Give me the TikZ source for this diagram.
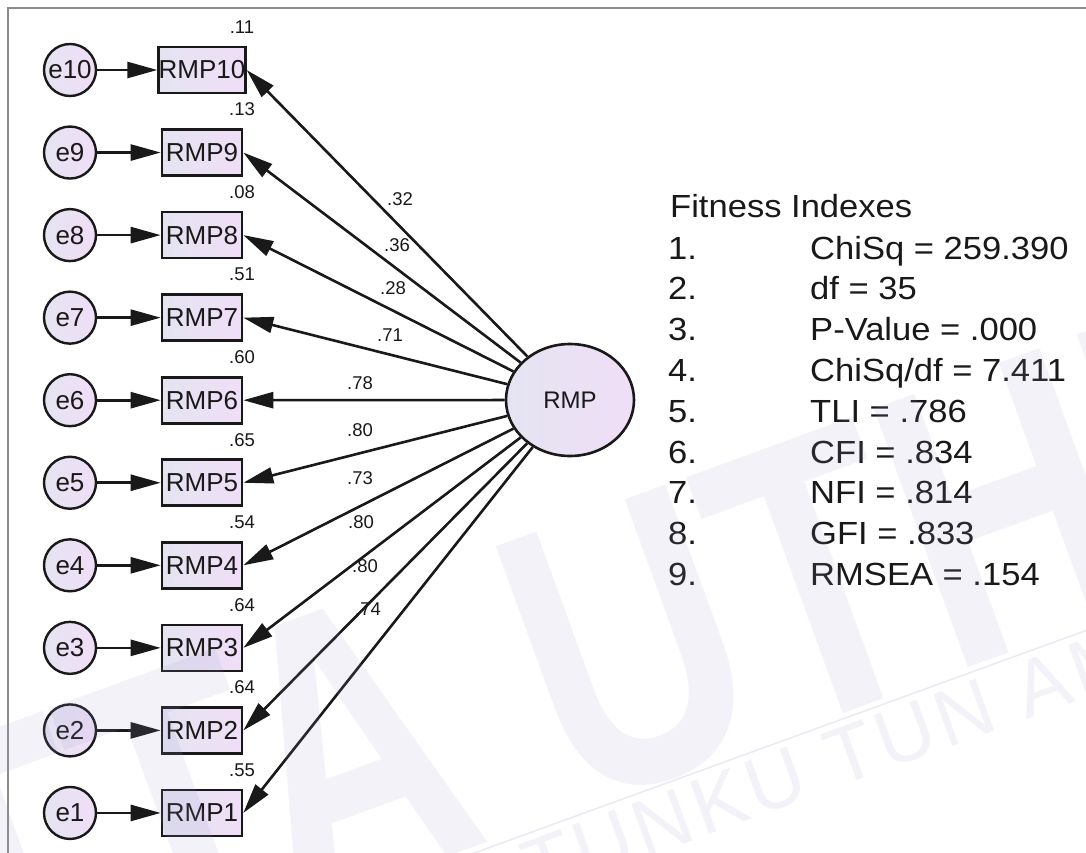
\documentclass[tikz,border=0pt]{standalone}
\usepackage{fontspec}
\setmainfont{Liberation Sans}
\usetikzlibrary{arrows.meta,shapes.geometric}

\definecolor{shadeL}{RGB}{228,228,241}
\definecolor{shadeR}{RGB}{240,222,247}
\definecolor{framegray}{RGB}{140,140,140}
\definecolor{wmark}{RGB}{150,150,205}
\definecolor{ink}{RGB}{25,25,25}

\tikzset{
  errvar/.style={circle, draw=ink, line width=2.4pt, minimum size=52pt, inner sep=0pt,
    left color=shadeL, right color=shadeR, text=ink, font=\fontsize{26}{26}\selectfont},
  obsvar/.style={rectangle, draw=ink, line width=2.6pt, minimum width=80pt, minimum height=46pt,
    inner sep=0pt, left color=shadeL, right color=shadeR, text=ink, font=\fontsize{26}{26}\selectfont},
  latvar/.style={ellipse, draw=ink, line width=2.6pt, minimum width=128pt, minimum height=112pt,
    inner sep=0pt, left color=shadeL, right color=shadeR, text=ink, font=\fontsize{24}{24}\selectfont},
  regarrow/.style={draw=ink, line width=2.6pt, -{Triangle[length=30pt,width=16pt]}},
  coef/.style={text=ink, font=\fontsize{18.5}{18.5}\selectfont, inner sep=0pt},
  fitline/.style={anchor=base west, inner sep=0pt, text=ink, font=\fontsize{32}{32}\selectfont},
  wmtext/.style={text=wmark, text opacity=0.12, inner sep=0pt, rotate=20, anchor=base west},
}

\begin{document}
\begin{tikzpicture}[x=1pt, y=-1pt]
  \path[use as bounding box] (0,0) rectangle (1086,853);
  \clip (0,0) rectangle (1086,853);
  \fill[white] (0,0) rectangle (1086,853);

  % window frame
  \draw[framegray, line width=2pt] (8,853) -- (8,8) -- (1086,8);

  % indicators with their error terms
  \foreach \i/\r in {10/0,9/1,8/2,7/3,6/4,5/5,4/6,3/7,2/8,1/9} {
    \pgfmathsetmacro\yy{70+\r*82.55}
    \node[errvar] (e\i) at (70,\yy) {e\i};
    \node[obsvar] (v\i) at (202,\yy) {RMP\i};
    \draw[regarrow] (e\i) -- (v\i);
  }

  % latent factor
  \node[latvar] (F) at (570,400) {RMP};
  \foreach \i in {1,...,10} {
    \draw[regarrow] (F) -- (v\i.east);
  }

  % standardized loadings
  \node[coef] (l10) at (400,199) {.32};
  \node[coef] (l9)  at (397,245) {.36};
  \node[coef] (l8)  at (393,288) {.28};
  \node[coef] (l7)  at (390,335) {.71};
  \node[coef] (l6)  at (360,383) {.78};
  \node[coef] (l5)  at (360,430) {.80};
  \node[coef] (l4)  at (360,478) {.73};
  \node[coef] (l3)  at (361,522) {.80};
  \node[coef] (l2)  at (365,566) {.80};
  \node[coef] (l1)  at (368,609) {.74};

  % squared multiple correlations
  \foreach \i/\r/\v in {10/0/.11,9/1/.13,8/2/.08,7/3/.51,6/4/.60,5/5/.65,4/6/.54,3/7/.64,2/8/.64,1/9/.55} {
    \pgfmathsetmacro\yy{70+\r*82.55-43}
    \node[coef] (r\i) at (242,\yy) {\v};
  }

  % fit summary
  \node[fitline] (fh) at (670,218) {\scalebox{1.08}[1]{Fitness Indexes}};
  \foreach \k/\t in {1/{ChiSq = 259.390},2/{df = 35},3/{P-Value = .000},4/{ChiSq/df = 7.411},
                     5/{TLI = .786},6/{CFI = .834},7/{NFI = .814},8/{GFI = .833},9/{RMSEA = .154}} {
    \pgfmathsetmacro\yy{259+(\k-1)*40.8}
    \node[fitline] (n\k) at (668,\yy) {\scalebox{1.08}[1]{\k.}};
    \node[fitline] (f\k) at (810,\yy) {\scalebox{1.08}[1]{\t}};
  }

  % library watermark
  \node[wmtext, font=\fontsize{400}{400}\selectfont\bfseries] (wm1) at (-220,1100)
    {\scalebox{0.75}[1]{PTTA UTHM}};
  \node[wmtext, font=\fontsize{80}{80}\selectfont] (wm2) at (535,898)
    {\addfontfeature{LetterSpace=6}TUNKU TUN AMINAH};
  \coordinate (wl1) at (400,880);
  \coordinate (wl2) at (1200,589);
  \draw[wmark, opacity=0.2, line width=1.5pt] (wl1) -- (wl2);
\end{tikzpicture}
\end{document}
